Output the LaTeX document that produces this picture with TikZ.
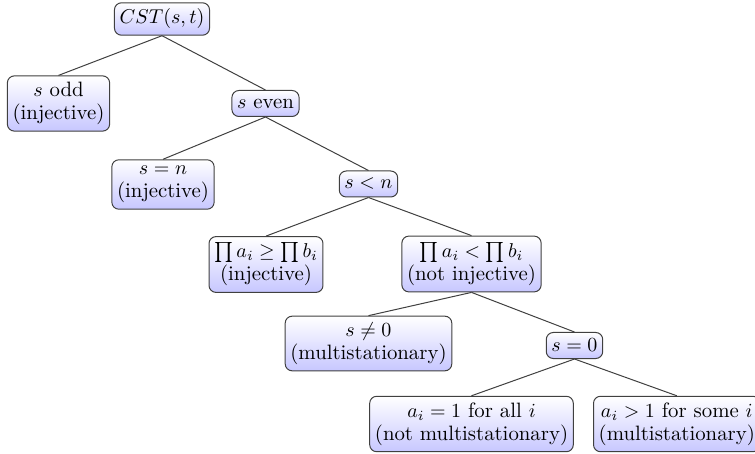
\documentclass[tikz,border=0pt]{standalone}
\usepackage{amsmath}
\begin{document}
\begin{tikzpicture}[x=0.5pt,y=-0.5pt,
  box/.style={draw=black!75, rounded corners=3.5pt, top color=white, bottom color=blue!22,
    align=center, inner xsep=2.6pt, inner ysep=3.1pt, minimum height=13pt,
    font=\fontsize{10.4}{11.6}\selectfont, line width=0.5pt},
  conn/.style={draw=black!75, line width=0.5pt}]
\path[use as bounding box] (0,0) rectangle (755,454);
\node[box] (cst) at (162,19) {$CST(s,t)$};
\node[box] (odd) at (58.5,103.5) {$s$ odd\\(injective)};
\node[box] (even) at (265.5,103.5) {$s$ even};
\node[box] (sn) at (163,184.5) {$s=n$\\(injective)};
\node[box] (sl) at (368.5,184) {$s<n$};
\node[box] (pg) at (266,264.5) {$\prod a_i \geq \prod b_i$\\(injective)};
\node[box] (pl) at (471.5,264) {$\prod a_i < \prod b_i$\\(not injective)};
\node[box] (sne) at (368.5,343.5) {$s\neq 0$\\(multistationary)};
\node[box] (sz) at (574.5,345.5) {$s=0$};
\node[box] (all) at (471.5,424) {$a_i=1$ for all $i$\\(not multistationary)};
\node[box, anchor=west] (some) at (593,424) {$a_i>1$ for some $i$\\(multistationary)};
\draw[conn] (cst.south) -- (odd.north);
\draw[conn] (cst.south) -- (even.north);
\draw[conn] (even.south) -- (sn.north);
\draw[conn] (even.south) -- (sl.north);
\draw[conn] (sl.south) -- (pg.north);
\draw[conn] (sl.south) -- (pl.north);
\draw[conn] (pl.south) -- (sne.north);
\draw[conn] (pl.south) -- (sz.north);
\draw[conn] (sz.south) -- (all.north);
\draw[conn] (sz.south) -- (some.north);
\end{tikzpicture}
\end{document}
